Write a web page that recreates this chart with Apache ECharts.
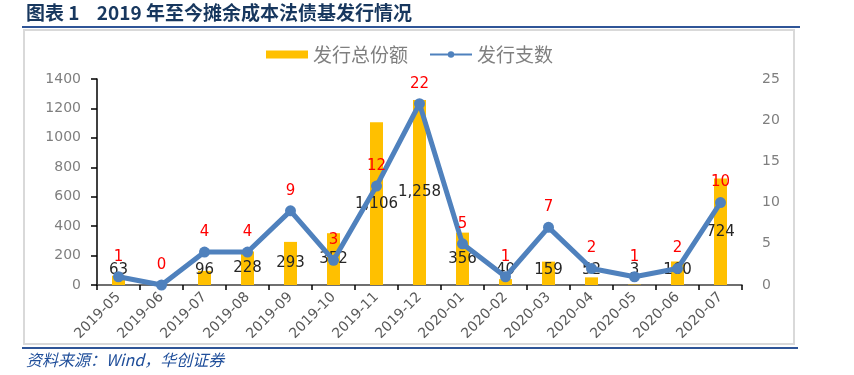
<!DOCTYPE html>
<html>
<head>
<meta charset="utf-8">
<script src="https://cdn.jsdelivr.net/npm/echarts@6/dist/echarts.min.js"></script>
<style>html,body{margin:0;padding:0;background:#fff}#c{width:854px;height:375px}</style>
</head>
<body>
<div id="c"></div>
<script>
const categories = ['2019-05','2019-06','2019-07','2019-08','2019-09','2019-10','2019-11','2019-12','2020-01','2020-02','2020-03','2020-04','2020-05','2020-06','2020-07'];
const totalShares = [63,0,96,228,293,352,1106,1258,356,40,159,52,3,160,724];
const fundCounts = [1,0,4,4,9,3,12,22,5,1,7,2,1,2,10];
const leftTicks = {min:0, max:1400, interval:200};
const rightTicks = {min:0, max:25, interval:5};
const seriesNames = ['发行总份额','发行支数'];
const titleText = '图表 1    2019 年至今摊余成本法债基发行情况';
const sourceText = '资料来源：Wind，华创证券';

const fmt = v => String(v).replace(/\B(?=(\d{3})+(?!\d))/g, ',');
const barData = totalShares.map(v => {
  if (v === 0) return {value: v, label: {show: false}};
  if (v < 200) return {value: v, label: {position: 'insideBottom', distance: 7}};
  return {value: v, label: {position: 'inside'}};
});

const chart = echarts.init(document.getElementById('c'));
chart.setOption({
  animation: false,
  textStyle: {fontFamily: 'DejaVu Sans, Noto Sans CJK SC'},
  grid: {left: 97, right: 112, top: 79, bottom: 90},
  legend: {
    left: 261, top: 40, itemWidth: 42, itemHeight: 8, itemGap: 21,
    textStyle: {fontSize: 19, color: '#7f7f7f', fontFamily: 'Noto Sans CJK SC'},
    data: [{name: seriesNames[0], icon: 'rect'}, {name: seriesNames[1]}]
  },
  xAxis: {
    type: 'category', data: categories, boundaryGap: true,
    axisLine: {lineStyle: {color: '#404040', width: 1.5}},
    axisTick: {show: true, length: 5, lineStyle: {color: '#000', width: 1.5}},
    axisLabel: {rotate: 45, color: '#595959', fontSize: 14, margin: 10, interval: 0}
  },
  yAxis: [{
    type: 'value', min: leftTicks.min, max: leftTicks.max, interval: leftTicks.interval,
    axisLine: {show: true, lineStyle: {color: '#000', width: 1.5}},
    axisTick: {show: true, length: 6, lineStyle: {color: '#000', width: 1.5}},
    splitLine: {show: false},
    axisLabel: {color: '#7f7f7f', fontSize: 14, margin: 16, formatter: v => String(v)}
  }, {
    type: 'value', min: rightTicks.min, max: rightTicks.max, interval: rightTicks.interval,
    position: 'right',
    axisLine: {show: false}, axisTick: {show: false}, splitLine: {show: false},
    axisLabel: {color: '#7f7f7f', fontSize: 14, margin: 20, formatter: v => String(v)}
  }],
  series: [{
    name: seriesNames[0], type: 'bar', yAxisIndex: 0, data: barData,
    barWidth: 13, itemStyle: {color: '#FFC000'},
    label: {show: true, color: '#262626', fontSize: 15, formatter: p => fmt(p.value)},
    z: 2
  }, {
    name: seriesNames[1], type: 'line', yAxisIndex: 1, data: fundCounts,
    symbol: 'circle', symbolSize: 11,
    lineStyle: {color: '#4F81BD', width: 5},
    itemStyle: {color: '#4F81BD'},
    label: {show: true, position: 'top', distance: 7, color: '#FF0000', fontSize: 15},
    z: 3
  }],
  graphic: [
    {type: 'text', left: 26, top: 3, style: {text: titleText, fontSize: 19, fontWeight: 'bold', fill: '#17375E', fontFamily: 'Noto Sans CJK SC'}},
    {type: 'line', shape: {x1: 22, y1: 27, x2: 800, y2: 27}, style: {stroke: '#2F5597', lineWidth: 2}},
    {type: 'rect', shape: {x: 24, y: 30, width: 770, height: 314}, style: {fill: 'none', stroke: '#d9d9d9', lineWidth: 2}},
    {type: 'line', shape: {x1: 22, y1: 348, x2: 798, y2: 348}, style: {stroke: '#2F5597', lineWidth: 2}},
    {type: 'text', left: 26, top: 352, style: {text: sourceText, fontSize: 16, fontStyle: 'italic', fill: '#1F4E9A', fontFamily: 'Noto Sans CJK SC'}}
  ]
});
</script>
</body>
</html>
